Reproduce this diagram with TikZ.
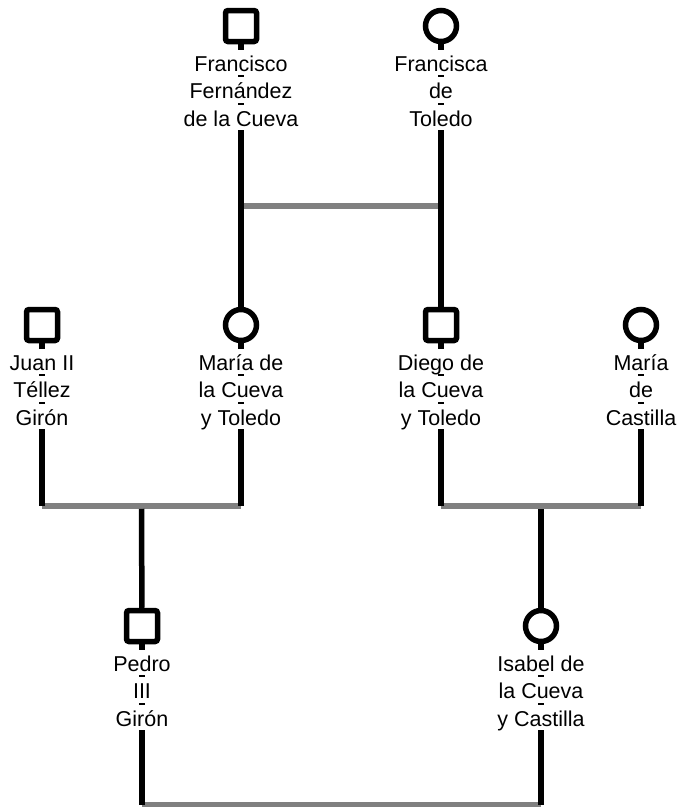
\documentclass[tikz,border=0pt]{standalone}
\usepackage{fontspec}
\setmainfont{Liberation Sans}
\usetikzlibrary{backgrounds}
\definecolor{bargray}{HTML}{808080}
\tikzset{
  male/.style={draw=black, line width=5.5pt, fill=white, rectangle, rounded corners=2.5pt, minimum size=31pt, inner sep=0pt},
  female/.style={draw=black, line width=5.5pt, fill=white, circle, minimum size=31pt, inner sep=0pt},
  nameline/.style={fill=white, anchor=base, inner xsep=1pt, inner ysep=0pt, text height=21.5pt, text depth=4pt, font=\fontsize{21.5}{25}\selectfont},
  stem/.style={draw=black, line width=5.5pt},
  childline/.style={draw=black, line width=5.5pt, shorten <=2.75pt},
  bar/.style={draw=bargray, line width=5.5pt},
}
\begin{document}
\begin{tikzpicture}[x=1pt, y=-1pt]
\useasboundingbox (0,0) rectangle (681,807);

% row 1
\node[male]   (fran)  at (241,26) {};
\node[female] (franc) at (441,26) {};
\node[nameline] (fran1) at (241,71)   {Francisco};
\node[nameline] (fran2) at (241,98.5) {Fernández};
\node[nameline] (fran3) at (241,126)  {de la Cueva};
\node[nameline] (franc1) at (441,71)   {Francisca};
\node[nameline] (franc2) at (441,98.5) {de};
\node[nameline] (franc3) at (441,126)  {Toledo};

% row 2
\node[male]   (juan)   at (42,325) {};
\node[female] (maria)  at (241,325) {};
\node[male]   (diego)  at (441,325) {};
\node[female] (mariac) at (641,325) {};
\node[nameline] (juan1) at (42,370)   {Juan II};
\node[nameline] (juan2) at (42,397.5) {Téllez};
\node[nameline] (juan3) at (42,425)   {Girón};
\node[nameline] (maria1) at (241,370)   {María de};
\node[nameline] (maria2) at (241,397.5) {la Cueva};
\node[nameline] (maria3) at (241,425)   {y Toledo};
\node[nameline] (diego1) at (441,370)   {Diego de};
\node[nameline] (diego2) at (441,397.5) {la Cueva};
\node[nameline] (diego3) at (441,425)   {y Toledo};
\node[nameline] (mariac1) at (641,370)   {María};
\node[nameline] (mariac2) at (641,397.5) {de};
\node[nameline] (mariac3) at (641,425)   {Castilla};

% row 3
\node[male]   (pedro)  at (142,626) {};
\node[female] (isabel) at (541,626) {};
\node[nameline] (pedro1) at (142,671)   {Pedro};
\node[nameline] (pedro2) at (142,698.5) {III};
\node[nameline] (pedro3) at (142,726)   {Girón};
\node[nameline] (isabel1) at (541,671)   {Isabel de};
\node[nameline] (isabel2) at (541,698.5) {la Cueva};
\node[nameline] (isabel3) at (541,726)   {y Castilla};

% union coordinates
\coordinate (u1L) at (241,206);
\coordinate (u1R) at (441,206);
\coordinate (u2L) at (42,506);
\coordinate (u2R) at (241,506);
\coordinate (u2M) at (141.5,506);
\coordinate (u3L) at (441,506);
\coordinate (u3R) at (641,506);
\coordinate (u3M) at (541,506);
\coordinate (u4L) at (142,805);
\coordinate (u4R) at (541,805);

\begin{scope}[on background layer]
  % marriage bars
  \draw[bar] (u1L) -- (u1R);
  \draw[bar] (u2L) -- (u2R);
  \draw[bar] (u3L) -- (u3R);
  \draw[bar] (u4L) -- (u4R);
  % parents to bars
  \draw[stem] (fran) -- (u1L);
  \draw[stem] (franc) -- (u1R);
  \draw[stem] (juan) -- (u2L);
  \draw[stem] (maria) -- (u2R);
  \draw[stem] (diego) -- (u3L);
  \draw[stem] (mariac) -- (u3R);
  \draw[stem] (pedro) -- (u4L);
  \draw[stem] (isabel) -- (u4R);
  % bars to children
  \draw[stem] (u1L) -- (maria);
  \draw[stem] (u1R) -- (diego);
  \draw[childline] (u2M) -- (pedro);
  \draw[childline] (u3M) -- (isabel);
\end{scope}
\end{tikzpicture}
\end{document}
